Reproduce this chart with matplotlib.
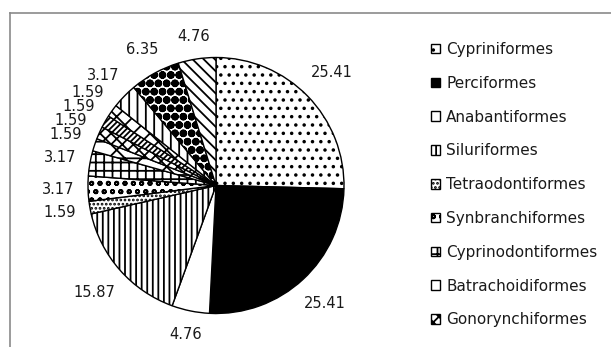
import numpy as np
import matplotlib
matplotlib.use("Agg")
import matplotlib.pyplot as plt
from matplotlib.lines import Line2D

# orders shown in the legend (first nine slices)
orders = ["Cypriniformes", "Perciformes", "Anabantiformes", "Siluriformes",
          "Tetraodontiformes", "Synbranchiformes", "Cyprinodontiformes",
          "Batrachoidiformes", "Gonorynchiformes"]
# percentage share of every slice, clockwise from the top
shares = [25.41, 25.41, 4.76, 15.87, 1.59, 3.17, 3.17, 1.59, 1.59,
          1.59, 1.59, 3.17, 6.35, 4.76]

# fill / hatch per slice
fills = ["white", "black", "white", "white", "white", "white", "white",
         "white", "white", "white", "white", "white", "white", "white"]
hatches = ["..", "", "", "|||", "....", "oo", "++", "x-", "xxx",
           "//////", "xx", "||", "OO..", "\\\\\\"]

plt.rcParams["hatch.linewidth"] = 1.3
plt.rcParams["hatch.color"] = "black"

W, H = 611, 347
fig = plt.figure(figsize=(W / 100, H / 100), dpi=100)
fig.patch.set_facecolor("white")
ax = fig.add_axes([0, 0, 1, 1])

cx, cy, R = 216, 161.5, 128
wedges, _ = ax.pie(shares, startangle=90, counterclock=False, radius=R,
                   center=(cx, cy), colors=fills, hatch=hatches,
                   wedgeprops=dict(edgecolor="black", linewidth=1.0))
ax.set_xlim(0, W)
ax.set_ylim(0, H)
ax.set_aspect("auto")
ax.axis("off")

TXT = "#1a1a1a"

# value labels just outside each slice
fig.canvas.draw()
rend = fig.canvas.get_renderer()
for w, v in zip(wedges, shares):
    ang = np.deg2rad((w.theta1 + w.theta2) / 2)
    t = ax.text(0, 0, f"{v:.2f}", fontsize=10.5, color=TXT,
                ha="center", va="center")
    bb = t.get_window_extent(rend)
    dx, dy = np.cos(ang), np.sin(ang)
    d = R + 13 + bb.width / 2 * abs(dx) + bb.height / 2 * abs(dy)
    t.set_position((cx + d * dx, cy + d * dy))

leg = ax.legend(wedges[:9], orders, loc="upper left",
                bbox_to_anchor=(431, H - 42), bbox_transform=ax.transData,
                frameon=False, fontsize=11, handlelength=0.6,
                handleheight=0.6, handletextpad=0.4, labelspacing=1.23,
                borderpad=0, borderaxespad=0)
for txt in leg.get_texts():
    txt.set_color(TXT)

# chart area border (top and left edges)
fig.add_artist(Line2D([10 / W, 1], [1 - 13 / H, 1 - 13 / H],
                      transform=fig.transFigure, color="#8a8a8a", lw=1.2))
fig.add_artist(Line2D([10 / W, 10 / W], [0, 1 - 13 / H],
                      transform=fig.transFigure, color="#8a8a8a", lw=1.2))

fig.savefig("out.png", dpi=100, facecolor="white")
